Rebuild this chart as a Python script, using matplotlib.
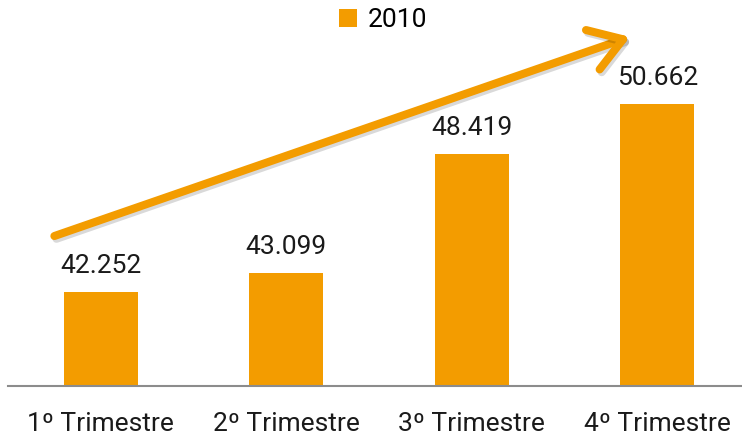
import matplotlib.pyplot as plt
import matplotlib.patheffects as pe

categories = ["1º Trimestre", "2º Trimestre", "3º Trimestre", "4º Trimestre"]
values = [42.252, 43.099, 48.419, 50.662]
labels = ["42.252", "43.099", "48.419", "50.662"]
series_name = "2010"

orange = "#F39C00"

plt.rcParams['font.family'] = ['Roboto', 'DejaVu Sans']

W, H = 742, 444
fig = plt.figure(figsize=(W / 100, H / 100), dpi=100)
ax = fig.add_axes([8 / W, 58 / H, 734 / W, 386 / H])

x = range(len(categories))
bars = ax.bar(x, values, width=0.4, color=orange, label=series_name, zorder=2)

ax.set_xlim(-0.5, -0.5 + 734 / 185.5)
ax.set_ylim(38.05, 55.32)

for b, lab in zip(bars, labels):
    ax.annotate(lab, (b.get_x() + b.get_width() / 2, b.get_height()),
                xytext=(0, 19), textcoords="offset points",
                ha="center", va="center", fontsize=19, color="#1a1a1a")

for s in ["top", "right", "left"]:
    ax.spines[s].set_visible(False)
ax.spines["bottom"].set_color("#8c8c8c")
ax.spines["bottom"].set_linewidth(1.5)
ax.set_yticks([])
ax.set_xticks(list(x))
ax.set_xticklabels(categories, fontsize=19, color="#1a1a1a")
ax.tick_params(axis="x", length=0, pad=19)

# trend arrow
ax.annotate("", xy=(2.853, 53.67), xytext=(-0.25, 44.76),
            xycoords="data", textcoords="data",
            arrowprops=dict(arrowstyle="->,head_length=1.15,head_width=0.75",
                            color=orange, lw=5.8, mutation_scale=20,
                            shrinkA=0, shrinkB=0,
                            capstyle="round", joinstyle="round",
                            path_effects=[pe.SimpleLineShadow(offset=(1.5, -2), alpha=0.15),
                                          pe.Normal()]),
            zorder=3)

fig.legend(loc="center", bbox_to_anchor=(383 / W, 1 - 20 / H), frameon=False,
           fontsize=19, handlelength=0.7, handleheight=0.7, handletextpad=0.4)

fig.savefig("out.png", dpi=100)
